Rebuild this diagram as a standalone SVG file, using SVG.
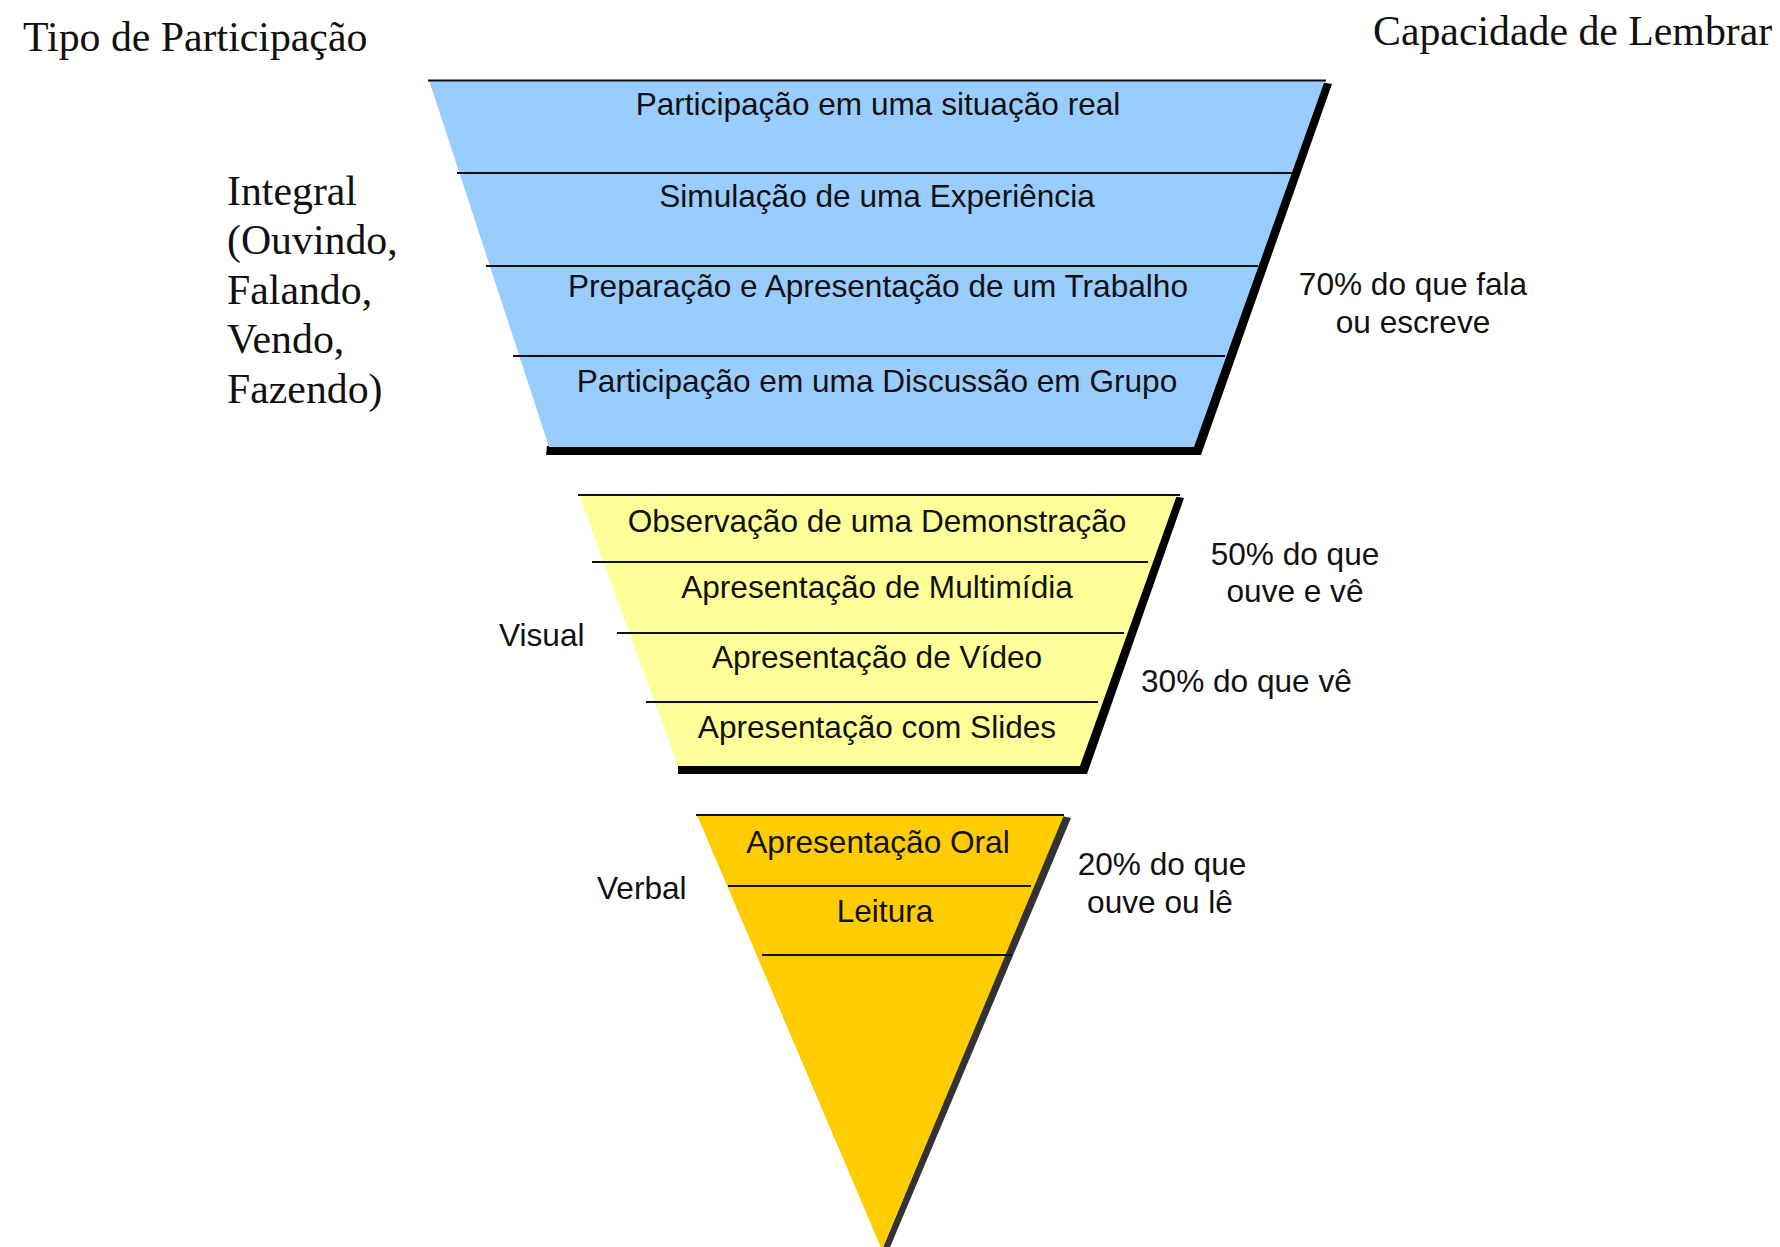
<svg xmlns="http://www.w3.org/2000/svg" width="1780" height="1247" viewBox="0 0 1780 1247">
<style>
.lbl{font-family:"Liberation Sans",Arial,sans-serif;font-size:31.6px;fill:#111;text-anchor:middle}
.side{font-family:"Liberation Sans",Arial,sans-serif;font-size:31.6px;fill:#111}
.ser{font-family:"Liberation Serif","Times New Roman",serif;font-size:41.8px;fill:#111}
.ln{stroke:#111;stroke-width:2.2;fill:none}
.sh{fill:#000}
</style>
<rect width="1780" height="1247" fill="#fff"/>
<g id="headers">
<text class="ser" x="23" y="51">Tipo de Participação</text>
<text class="ser" x="1373" y="45">Capacidade de Lembrar</text>
</g>
<g id="label-integral">
<text class="ser" x="227" y="204.5">Integral</text>
<text class="ser" x="227" y="254">(Ouvindo,</text>
<text class="ser" x="227" y="303.5">Falando,</text>
<text class="ser" x="227" y="353">Vendo,</text>
<text class="ser" x="227" y="402.5">Fazendo)</text>
</g>
<g id="tier-integral">
<polygon class="sh" points="1320,82 1332,84 1201,455 546,455 547,446 1190,446"/>
<polygon fill="#99CCFF" points="429,80 1325,80 1194,447 549,447"/>
<line class="ln" x1="428" y1="80.5" x2="1326" y2="80.5"/>
<line class="ln" x1="457" y1="173" x2="1292" y2="173"/>
<line class="ln" x1="486" y1="266" x2="1258" y2="266"/>
<line class="ln" x1="513" y1="356" x2="1225" y2="356"/>
<g id="row-situacao-real"><text class="lbl" x="878" y="115">Participação em uma situação real</text></g>
<g id="row-simulacao"><text class="lbl" x="877" y="206.5">Simulação de uma Experiência</text></g>
<g id="row-preparacao"><text class="lbl" x="878" y="297">Preparação e Apresentação de um Trabalho</text></g>
<g id="row-discussao"><text class="lbl" x="877" y="391.5">Participação em uma Discussão em Grupo</text></g>
</g>
<g id="pct-70">
<text class="lbl" x="1413" y="295">70% do que fala</text>
<text class="lbl" x="1413" y="333">ou escreve</text>
</g>
<g id="label-visual"><text class="side" x="499" y="646">Visual</text></g>
<g id="tier-visual">
<polygon class="sh" points="1172,496 1184,498 1087,774 678,774 678,766 1077,766"/>
<polygon fill="#FFFF99" points="579,495 1177,495 1080,766 678,766"/>
<line class="ln" x1="578" y1="495" x2="1180" y2="495"/>
<line class="ln" x1="592" y1="562" x2="1148" y2="562"/>
<line class="ln" x1="617" y1="633" x2="1124" y2="633"/>
<line class="ln" x1="646" y1="702" x2="1098" y2="702"/>
<g id="row-demonstracao"><text class="lbl" x="877" y="531.5">Observação de uma Demonstração</text></g>
<g id="row-multimidia"><text class="lbl" x="877" y="598">Apresentação de Multimídia</text></g>
<g id="row-video"><text class="lbl" x="877" y="668">Apresentação de Vídeo</text></g>
<g id="row-slides"><text class="lbl" x="877" y="738">Apresentação com Slides</text></g>
</g>
<g id="pct-50">
<text class="lbl" x="1295" y="565">50% do que</text>
<text class="lbl" x="1295" y="601.5">ouve e vê</text>
</g>
<g id="pct-30"><text class="side" x="1141" y="691.5">30% do que vê</text></g>
<g id="label-verbal"><text class="side" x="597" y="899">Verbal</text></g>
<g id="tier-verbal">
<polygon fill="#333" points="1062,816 1071,818 888,1252 881,1252"/>
<polygon fill="#FFCC00" points="697,815 1064,815 882,1250"/>
<line class="ln" x1="696" y1="815" x2="1064" y2="815"/>
<line class="ln" x1="728" y1="886" x2="1031" y2="886"/>
<line class="ln" x1="762" y1="955" x2="1012" y2="955"/>
<g id="row-oral"><text class="lbl" x="878" y="853">Apresentação Oral</text></g>
<g id="row-leitura"><text class="lbl" x="885" y="922">Leitura</text></g>
</g>
<g id="pct-20">
<text class="lbl" x="1162" y="875">20% do que</text>
<text class="lbl" x="1160" y="913">ouve ou lê</text>
</g>
</svg>
